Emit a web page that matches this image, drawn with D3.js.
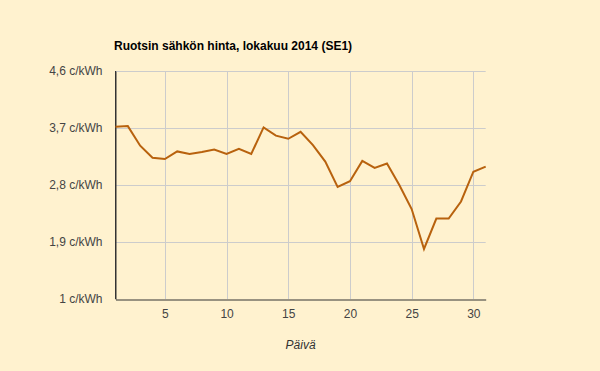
<!DOCTYPE html>
<html>
<head>
<meta charset="utf-8">
<script src="https://cdn.jsdelivr.net/npm/d3@7"></script>
<style>
  body { margin: 0; background: #fff2cf; }
  svg { display: block; font-family: "Liberation Sans", Arial, sans-serif; }
  .title { font-size: 12px; font-weight: bold; fill: #000; }
  .tick text { font-size: 12px; fill: #444; }
  .axislabel { font-size: 12px; font-style: italic; fill: #333; }
</style>
</head>
<body>
<script>
var days = d3.range(1, 32);
var prices = [3.72, 3.73, 3.42, 3.23, 3.21, 3.33, 3.29, 3.32, 3.36, 3.29,
              3.37, 3.29, 3.71, 3.58, 3.53, 3.64, 3.43, 3.17, 2.77, 2.86,
              3.18, 3.07, 3.14, 2.80, 2.42, 1.79, 2.27, 2.27, 2.54, 3.01, 3.09];
var yTicks = [1, 1.9, 2.8, 3.7, 4.6];
var xTicks = [5, 10, 15, 20, 25, 30];

const W = 600, H = 371;
var plot = { left: 115.5, right: 485.7, top: 71, bottom: 299 };

var x = d3.scaleLinear().domain([1, 31]).range([plot.left, plot.right]);
var y = d3.scaleLinear().domain([1, 4.6]).range([plot.bottom, plot.top]);

var svg = d3.select("body").append("svg")
    .attr("width", W)
    .attr("height", H);

svg.append("rect")
    .attr("width", W).attr("height", H)
    .attr("fill", "#fff2cf");

// title
svg.append("text")
    .attr("class", "title")
    .attr("x", 114)
    .attr("y", 50)
    .text("Ruotsin sähkön hinta, lokakuu 2014 (SE1)");

// gridlines
svg.append("g")
    .selectAll("line")
    .data(yTicks.slice(1))
    .enter().append("line")
    .attr("x1", plot.left).attr("x2", plot.right)
    .attr("y1", d => Math.round(y(d)) + 0.5)
    .attr("y2", d => Math.round(y(d)) + 0.5)
    .attr("stroke", "#ccc");

svg.append("g")
    .selectAll("line")
    .data(xTicks)
    .enter().append("line")
    .attr("x1", d => Math.round(x(d)) + 0.5)
    .attr("x2", d => Math.round(x(d)) + 0.5)
    .attr("y1", plot.top).attr("y2", plot.bottom)
    .attr("stroke", "#ccc");

// axes
var axisY = d3.axisLeft(y)
    .tickValues(yTicks)
    .tickSize(0)
    .tickPadding(13)
    .tickFormat(d => String(d).replace(".", ",") + " c/kWh");

svg.append("g")
    .attr("transform", "translate(" + plot.left + ",0)")
    .call(axisY)
    .call(g => g.select(".domain").attr("stroke", "#333"));

var axisX = d3.axisBottom(x)
    .tickValues(xTicks)
    .tickSize(0)
    .tickPadding(10);

svg.append("g")
    .attr("transform", "translate(0," + (plot.bottom + 0.5) + ")")
    .call(axisX)
    .call(g => g.select(".domain").attr("stroke", "#333"));

svg.append("line")
    .attr("x1", plot.left).attr("x2", plot.left)
    .attr("y1", plot.top).attr("y2", plot.bottom)
    .attr("stroke", "#333");

// x axis title
svg.append("text")
    .attr("class", "axislabel")
    .attr("x", (plot.left + plot.right) / 2)
    .attr("y", 349)
    .attr("text-anchor", "middle")
    .text("Päivä");

// price line
var line = d3.line()
    .x((d, i) => x(days[i]))
    .y(d => y(d));

svg.append("path")
    .datum(prices)
    .attr("d", line)
    .attr("fill", "none")
    .attr("stroke", "#b8620e")
    .attr("stroke-width", 2);
</script>
</body>
</html>
